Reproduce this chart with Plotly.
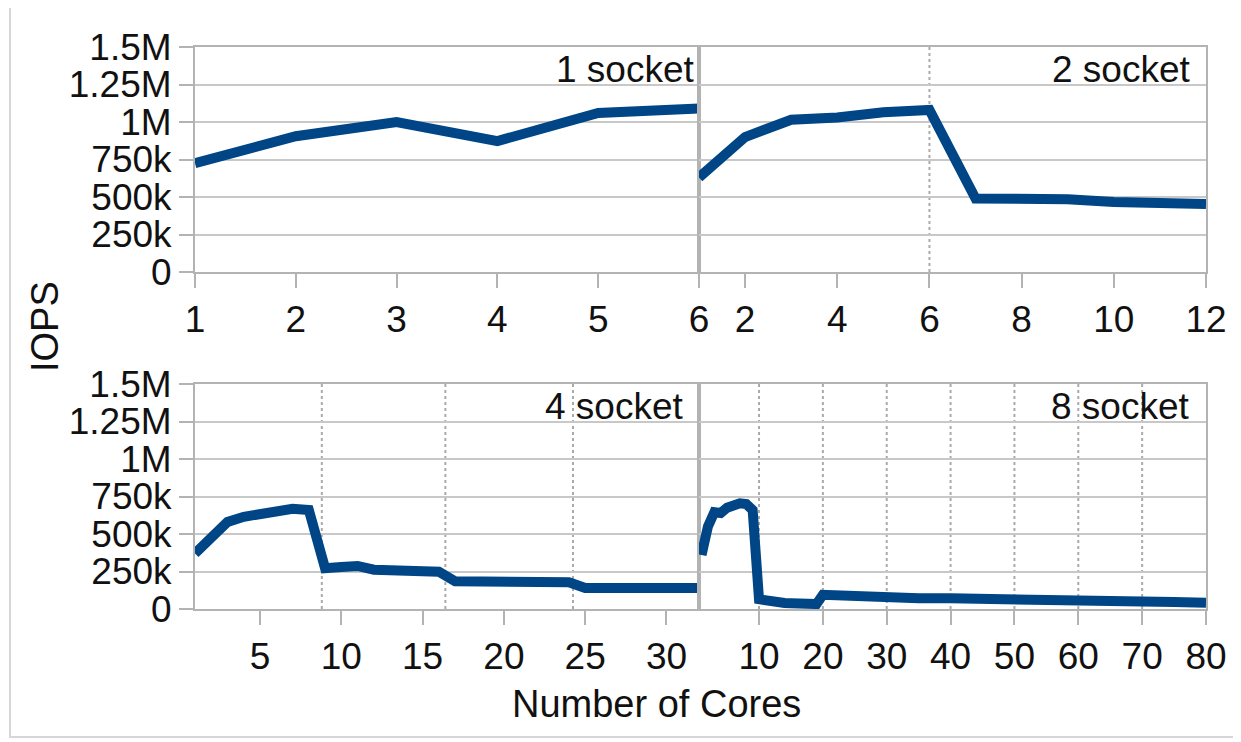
import plotly.graph_objects as go

# ---------------- data (IOPS in millions) ----------------
cores_1s = [1, 2, 3, 4, 5, 6]
iops_1s = [0.725, 0.905, 1.0, 0.873, 1.06, 1.09]

cores_2s = [1, 2, 3, 4, 5, 6, 7, 8, 9, 10, 11, 12]
iops_2s = [0.63, 0.9, 1.015, 1.03, 1.065, 1.08, 0.49, 0.49, 0.485, 0.467, 0.457, 0.453]

cores_4s = list(range(1, 33))
iops_4s = [0.37, 0.48, 0.58, 0.615, 0.635, 0.655, 0.668, 0.66, 0.272, 0.28, 0.287, 0.262,
           0.258, 0.255, 0.25, 0.248, 0.185, 0.185, 0.185, 0.185, 0.185, 0.184, 0.183, 0.178,
           0.14, 0.14, 0.14, 0.14, 0.14, 0.14, 0.14, 0.14]

cores_8s = [1, 2, 3, 4, 5, 6, 7, 8, 9, 10, 11, 12, 13, 14, 15, 16, 17, 18, 19, 20,
            21, 22, 23, 24, 25, 26, 27, 28, 29, 30, 35, 40, 45, 50, 55, 60, 65, 70, 75, 80]
iops_8s = [0.36, 0.55, 0.645, 0.64, 0.675, 0.695, 0.705, 0.7, 0.66, 0.065, 0.055, 0.05,
           0.045, 0.04, 0.038, 0.037, 0.035, 0.034, 0.033, 0.095, 0.093, 0.092, 0.09, 0.09,
           0.092, 0.09, 0.087, 0.08, 0.075, 0.072, 0.072, 0.071, 0.07, 0.064, 0.06, 0.057,
           0.054, 0.05, 0.046, 0.042]

panel_labels = ["1 socket", "2 socket", "4 socket", "8 socket"]
x_ranges = [[1, 6], [1, 12], [1, 32], [0.6, 80]]
x_ticks = [[1, 2, 3, 4, 5, 6], [2, 4, 6, 8, 10, 12], [5, 10, 15, 20, 25, 30],
           [10, 20, 30, 40, 50, 60, 70, 80]]
socket_bounds = [[], [6], [8.8, 16.4, 24.25], [10, 20, 30, 40, 50, 60, 70]]

y_vals = [0, 0.25, 0.5, 0.75, 1.0, 1.25, 1.5]
y_text = ["0", "250k", "500k", "750k", "1M", "1.25M", "1.5M"]

series = [(cores_1s, iops_1s), (cores_2s, iops_2s), (cores_4s, iops_4s), (cores_8s, iops_8s)]

# ---------------- figure ----------------
W, H = 1241, 742
OFF = 8  # page body margin in front of the figure
FONT = "Liberation Sans, Arial, sans-serif"
LINE_COLOR = "#004586"
GRID = "#c8c8c8"
AXIS = "#b3b3b3"
TXT = "#111111"


def px(x):
    return (x - OFF) / W


def py(y):
    return 1 - (y - OFF) / H


xdom = [[px(195), px(699)], [px(699), px(1206)]]
ydom = [[py(272), py(47)], [py(609), py(384)]]

fig = go.Figure()
layout = dict(
    width=W, height=H, autosize=False,
    margin=dict(l=0, r=0, t=0, b=0, pad=0, autoexpand=False),
    paper_bgcolor="white", plot_bgcolor="white",
    showlegend=False,
    font=dict(family=FONT, size=37, color=TXT),
)

shapes = []
annotations = []
for i, (xs, ys) in enumerate(series):
    n = i + 1
    sfx = "" if n == 1 else str(n)
    row, col = divmod(i, 2)
    fig.add_trace(go.Scatter(
        x=xs, y=[v * 1e6 for v in ys], mode="lines",
        line=dict(color=LINE_COLOR, width=10),
        xaxis="x" + sfx, yaxis="y" + sfx, hoverinfo="skip",
    ))
    layout["xaxis" + sfx] = dict(
        domain=xdom[col], anchor="y" + sfx, range=x_ranges[i], automargin=False,
        tickmode="array", tickvals=x_ticks[i], ticks="outside", ticklen=14,
        tickwidth=2, tickcolor=AXIS, showgrid=False, zeroline=False,
        showline=True, linecolor=AXIS, linewidth=2, mirror=True,
        tickfont=dict(size=37, family=FONT, color=TXT),
    )
    layout["yaxis" + sfx] = dict(
        domain=ydom[row], anchor="x" + sfx, range=[0, 1.5e6], automargin=False,
        tickmode="array", tickvals=[v * 1e6 for v in y_vals], ticktext=y_text,
        ticks="outside" if col == 0 else "", ticklen=14, tickwidth=2, tickcolor=AXIS,
        showticklabels=(col == 0), showgrid=True, gridcolor=GRID, gridwidth=2,
        zeroline=False, showline=True, linecolor=AXIS, linewidth=2, mirror=True,
        tickfont=dict(size=37, family=FONT, color=TXT),
    )
    for b in socket_bounds[i]:
        shapes.append(dict(
            type="line", xref="x" + sfx, yref="y" + sfx + " domain",
            x0=b, x1=b, y0=0, y1=1,
            line=dict(color="#aaaaaa", width=2, dash="dot"), layer="below",
        ))
    lx = [0.996, 0.974, 0.974, 0.972][i]
    annotations.append(dict(
        text=panel_labels[i], xref="x" + sfx + " domain", yref="y" + sfx + " domain",
        x=lx, y=0.898, xanchor="right", yanchor="middle", showarrow=False,
        font=dict(size=37, family=FONT, color=TXT),
    ))

annotations.append(dict(
    text="IOPS", xref="paper", yref="paper", x=px(45), y=py(327),
    textangle=-90, showarrow=False, xanchor="center", yanchor="middle",
    font=dict(size=38, family=FONT, color=TXT),
))
annotations.append(dict(
    text="Number of Cores", xref="paper", yref="paper", x=px(656), y=py(704),
    showarrow=False, xanchor="center", yanchor="middle",
    font=dict(size=38, family=FONT, color=TXT),
))

# outer frame of the page
shapes.append(dict(type="rect", xref="paper", yref="paper",
                   x0=px(10), x1=px(1236), y0=py(737), y1=py(5),
                   line=dict(color="#d6d6d6", width=2), layer="below"))

layout["shapes"] = shapes
layout["annotations"] = annotations
fig.update_layout(**layout)
fig.write_html("out.html")
